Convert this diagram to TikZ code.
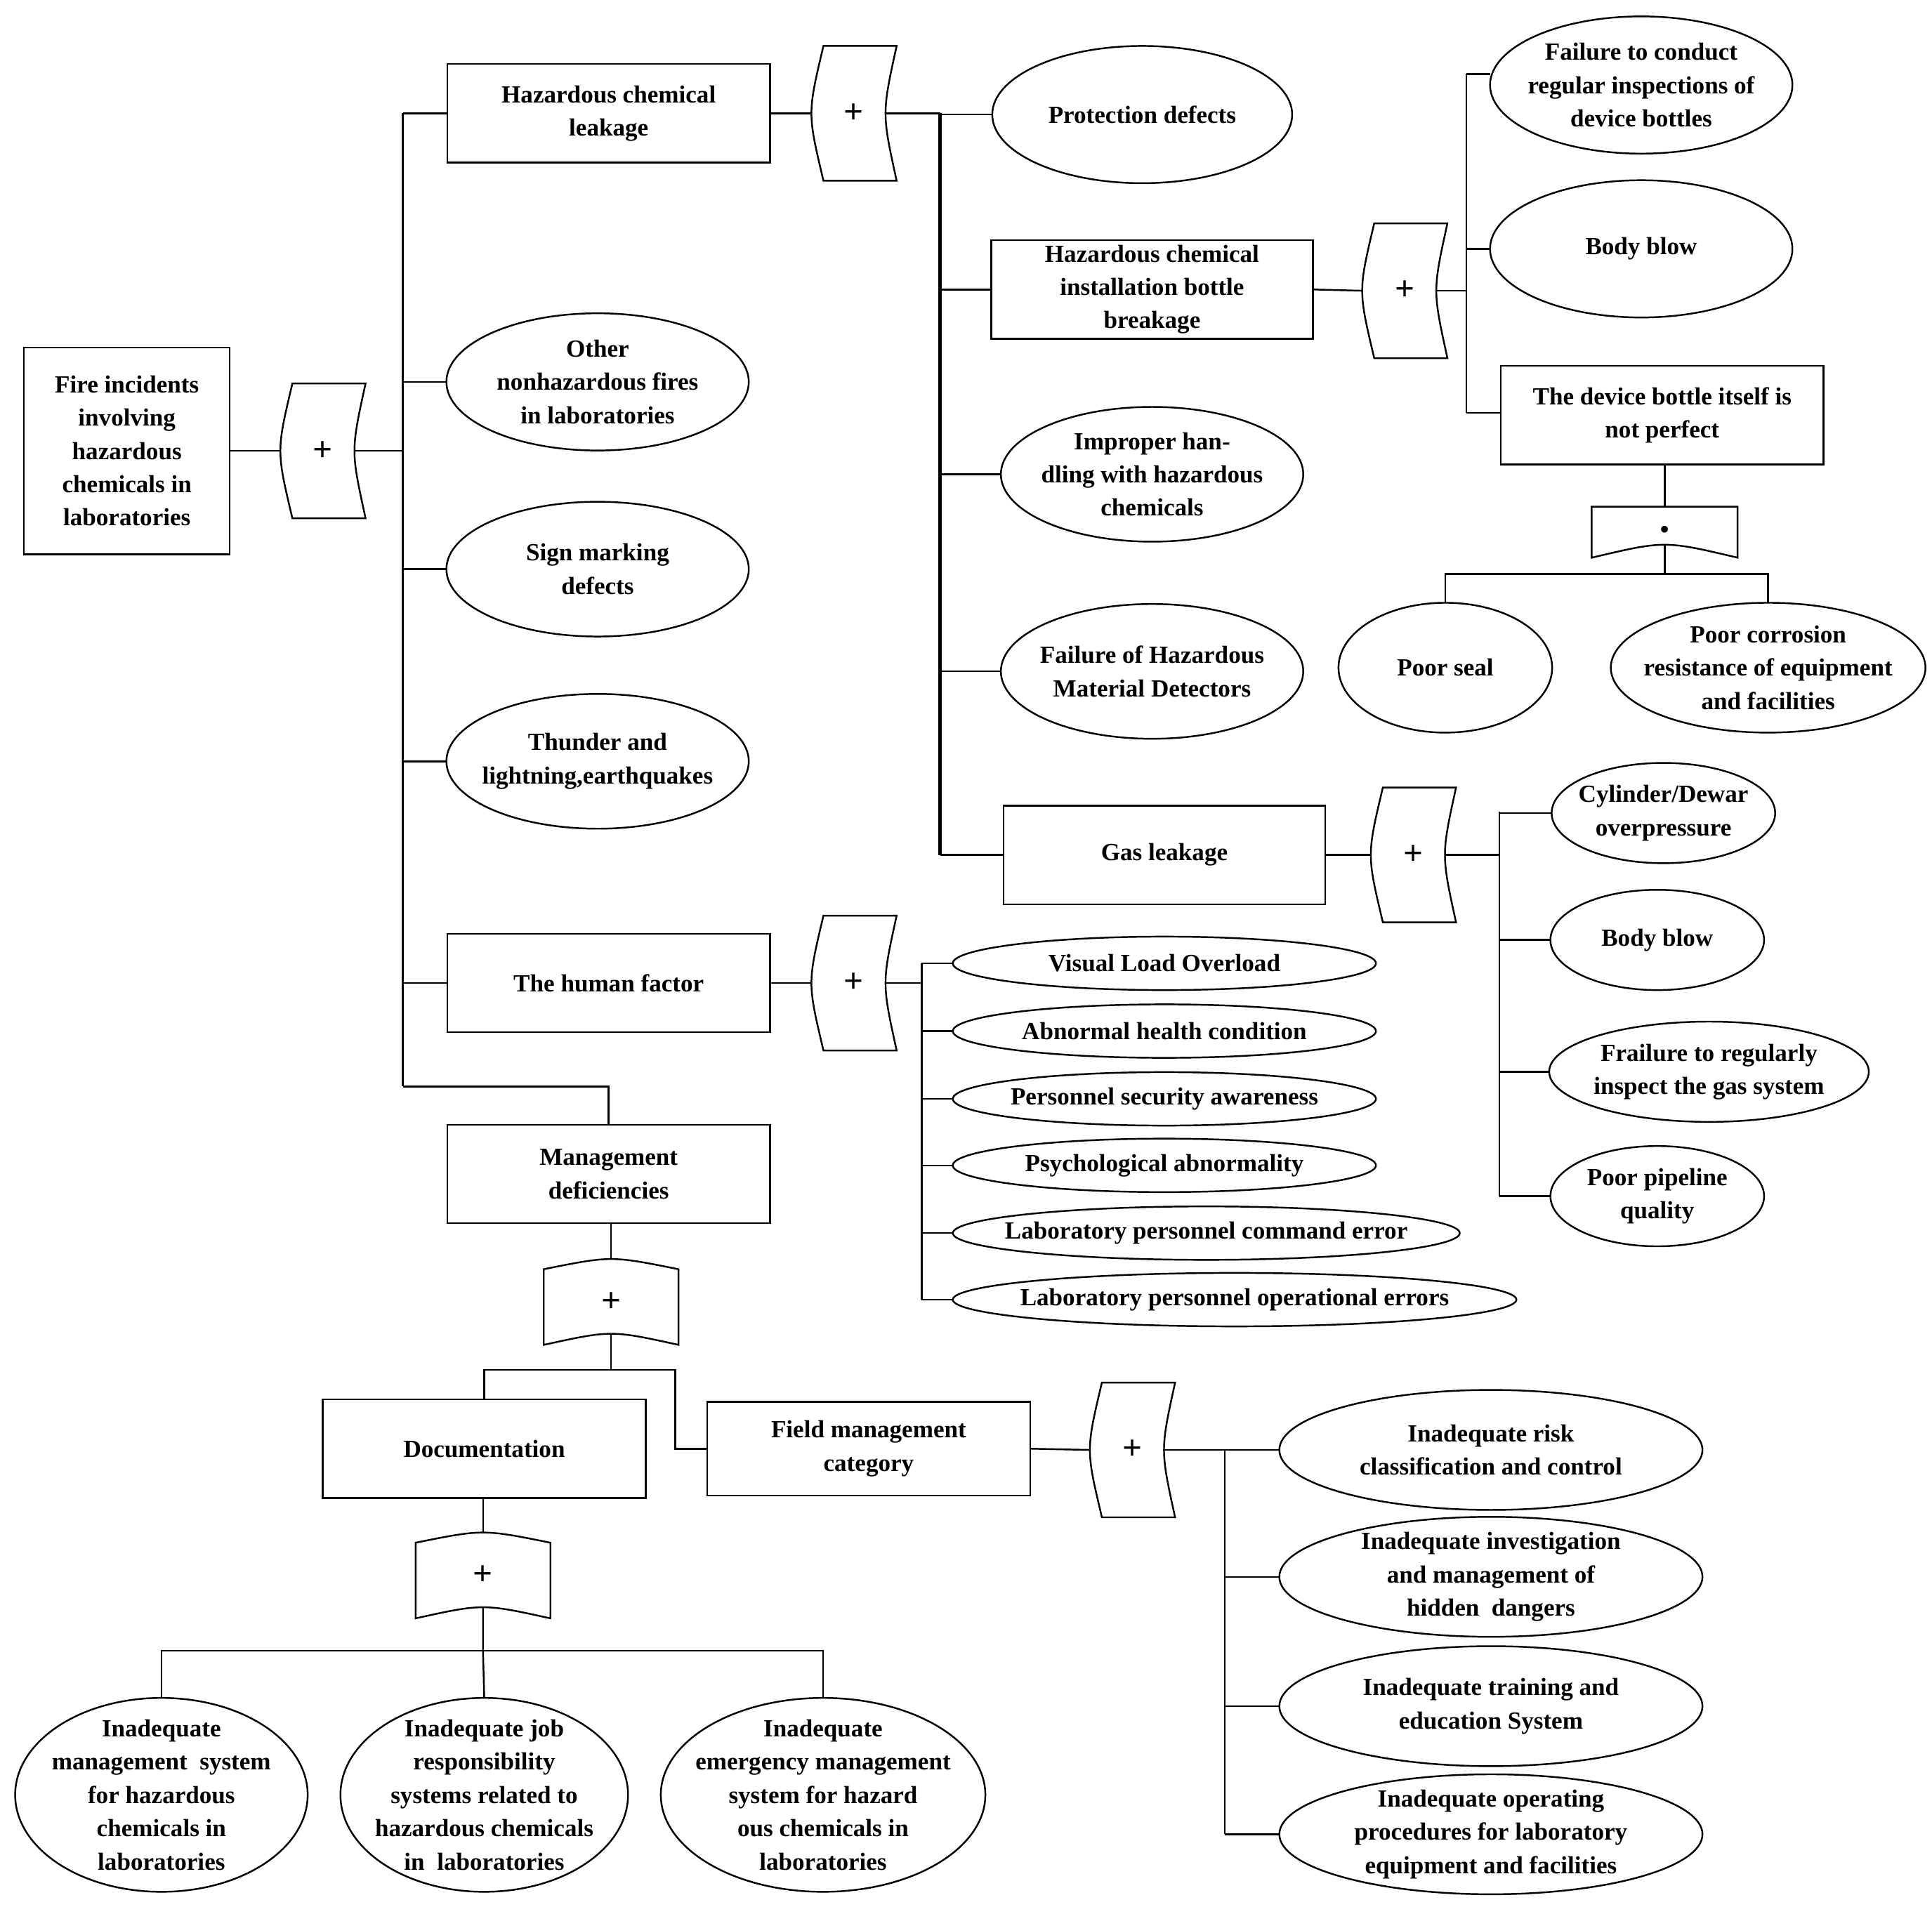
\documentclass[tikz,border=0pt]{standalone}
\usepackage{fontspec}
\setmainfont{Liberation Serif}
\usetikzlibrary{shapes.geometric,calc}
\begin{document}
\begin{tikzpicture}[x=1pt,y=-1pt,line width=1.4pt,
  every node/.style={font=\fontsize{20}{27}\selectfont\bfseries,align=center,inner sep=0pt},
  box/.style={draw,rectangle,minimum width=262pt,minimum height=80pt},
  el/.style={rectangle,minimum width=#1},
  gh/.style={minimum width=68pt,minimum height=108pt,font=\fontsize{28}{28}\selectfont\bfseries},
  gv/.style={minimum width=108pt,minimum height=68pt,font=\fontsize{28}{28}\selectfont\bfseries}]
\newcommand\hgate[1]{\draw ($(#1.north west)+(10,0)$) -- (#1.north east) .. controls ($(#1.east)+(-12,0)$) .. (#1.south east) -- ($(#1.south west)+(10,0)$) .. controls ($(#1.west)+(-3,0)$) .. cycle;}
\newcommand\vgate[1]{\draw ($(#1.north west)+(0,8)$) .. controls ($(#1.north)+(0,-3)$) .. ($(#1.north east)+(0,8)$) -- (#1.south east) .. controls ($(#1.south)+(0,-12)$) .. (#1.south west) -- cycle;}
\newcommand\gout[1]{($(#1.east)+(-9,0)$)}
\useasboundingbox (0,0) rectangle (1568,1548);
% root
\node[draw,minimum width=167pt,minimum height=168pt] (root) at (103,366) {Fire incidents\\involving\\hazardous\\chemicals in\\laboratories};
\node[gh] (g0) at (262,366) {+}; \hgate{g0}
\coordinate (s0) at (327,92); \coordinate (s1) at (327,882);
\draw (root.east) -- (g0.west); \draw \gout{g0} -- (g0.east -| s0);
\draw (s0) -- (s1);
\node[box] (leak) at (494,92) {Hazardous chemical\\leakage};
\node[el=244pt,minimum height=110pt] (other) at (485,310) {Other\\nonhazardous fires\\in laboratories};
\node[el=244pt,minimum height=108pt] (sign) at (485,462) {Sign marking\\defects};
\node[el=244pt,minimum height=108pt] (thun) at (485,618) {Thunder and\\lightning,earthquakes};
\node[box] (human) at (494,798) {The human factor};
\node[box] (mgmt) at (494,953) {Management\\deficiencies};
\foreach \n in {leak,other,sign,thun,human} \draw (s0 |- \n.west) -- (\n.west);
\draw (s1) -| (mgmt.north);
% leakage branch
\node[gh] (g1) at (693,92) {+}; \hgate{g1}
\coordinate (b1) at (763,92); \coordinate (b1e) at (763,694);
\draw (leak.east) -- (g1.west); \draw \gout{g1} -- (b1);
\draw[line width=3pt] (b1) -- (b1e);
\node[el=242pt,minimum height=110pt] (prot) at (927,93) {Protection defects};
\node[box,minimum width=261pt] (bottle) at (935,235) {Hazardous chemical\\installation bottle\\breakage};
\node[el=244pt,minimum height=108pt] (impr) at (935,385) {Improper han-\\dling with hazardous\\chemicals};
\node[el=244pt,minimum height=108pt] (det) at (935,545) {Failure of Hazardous\\Material Detectors};
\node[box,minimum width=261pt] (gas) at (945,694) {Gas leakage};
\foreach \n in {prot,bottle,impr,det,gas} \draw (b1 |- \n.west) -- (\n.west);
% bottle branch
\node[gh] (g2) at (1140,236) {+}; \hgate{g2}
\coordinate (b2) at (1190,60); \coordinate (b2e) at (1190,335);
\draw (bottle.east) -- (g2.west); \draw \gout{g2} -- (g2.east -| b2); \draw (b2) -- (b2e);
\node[el=244pt,minimum height=110pt] (insp) at (1332,69) {Failure to conduct\\regular inspections of\\device bottles};
\node[el=244pt,minimum height=110pt] (blow1) at (1332,202) {Body blow};
\node[box] (itself) at (1349,337) {The device bottle itself is\\not perfect};
\draw (b2) -- (b2 -| insp.west); \draw (b2 |- blow1.west) -- (blow1.west); \draw (b2e) -- (b2e -| itself.west);
\node[minimum width=117pt,minimum height=44pt] (and) at (1351,430) {\Large$\bullet$};
\draw ($(and.north west)+(0,4)$) -- ($(and.north east)+(0,4)$) -- (and.south east) .. controls ($(and.south)+(0,-14)$) .. (and.south west) -- cycle;
\draw (itself.south -| and.north) -- ($(and.north)+(0,4)$);
\node[el=172pt,minimum height=104pt] (seal) at (1173,542) {Poor seal};
\node[el=254pt,minimum height=104pt] (corr) at (1435,542) {Poor corrosion\\resistance of equipment\\and facilities};
\coordinate (a1) at (1351,466);
\draw ($(and.south)+(0,-10)$) -- (a1); \draw (seal.north) |- (a1) -| (corr.north);
% gas branch
\node[gh] (g3) at (1147,694) {+}; \hgate{g3}
\coordinate (b3) at (1217,659); \coordinate (b3e) at (1217,971);
\draw (gas.east) -- (g3.west); \draw \gout{g3} -- (g3.east -| b3); \draw (b3) -- (b3e);
\node[el=180pt,minimum height=80pt] (cyl) at (1350,660) {Cylinder/Dewar\\overpressure};
\node[el=172pt,minimum height=80pt] (blow2) at (1345,763) {Body blow};
\node[el=258pt,minimum height=80pt] (frail) at (1387,870) {Frailure to regularly\\inspect the gas system};
\node[el=172pt,minimum height=80pt] (pipe) at (1345,971) {Poor pipeline\\quality};
\foreach \n in {cyl,blow2,frail,pipe} \draw (b3 |- \n.west) -- (\n.west);
% human branch
\node[gh] (g4) at (693,798) {+}; \hgate{g4}
\coordinate (b4) at (748,782); \coordinate (b4e) at (748,1055);
\draw (human.east) -- (g4.west); \draw \gout{g4} -- (g4.east -| b4); \draw (b4) -- (b4e);
\node[el=342pt,minimum height=42pt] (h1) at (945,782) {Visual Load Overload};
\node[el=342pt,minimum height=42pt] (h2) at (945,837) {Abnormal health condition};
\node[el=342pt,minimum height=42pt] (h3) at (945,892) {Personnel security awareness};
\node[el=342pt,minimum height=42pt] (h4) at (945,946) {Psychological abnormality};
\node[el=410pt,minimum height=42pt] (h5) at (979,1001) {Laboratory personnel command error};
\node[el=456pt,minimum height=42pt] (h6) at (1002,1055) {Laboratory personnel operational errors};
\foreach \n in {h1,h2,h3,h4,h5,h6} \draw (b4 |- \n.west) -- (\n.west);
% management
\node[gv] (g5) at (496,1057) {+}; \vgate{g5}
\draw (mgmt.south -| g5.north) -- ($(g5.north)+(0,0)$);
\node[box] (doc) at (393,1176) {Documentation};
\node[box,minimum height=76pt] (field) at (705,1176) {Field management\\category};
\coordinate (m1) at (496,1112); \coordinate (m2) at (548,1112);
\draw ($(g5.south)+(0,-9)$) -- (m1); \draw (doc.north) |- (m1) -- (m2) |- (field.west);
\node[gv] (g6) at (392,1279) {+}; \vgate{g6}
\draw (doc.south -| g6.north) -- (g6.north);
\node[el=236pt,minimum height=156pt] (d1) at (131,1457) {Inadequate\\management\ \ system\\for hazardous\\chemicals in\\laboratories};
\node[el=232pt,minimum height=156pt] (d2) at (393,1457) {Inadequate job\\responsibility\\systems related to\\hazardous chemicals\\in\ \ laboratories};
\node[el=262pt,minimum height=156pt] (d3) at (668,1457) {Inadequate\\emergency management\\system for hazard\\ous chemicals in\\laboratories};
\coordinate (m3) at (392,1340);
\draw ($(g6.south)+(0,-9)$) -- (m3) -- (d2.north); \draw (d1.north) |- (m3) -| (d3.north);
\node[gh] (g7) at (919,1177) {+}; \hgate{g7}
\coordinate (b7) at (994,1177); \coordinate (b7e) at (994,1489);
\draw (field.east) -- (g7.west); \draw \gout{g7} -- (b7) -- (b7e);
\node[el=342pt,minimum height=96pt] (f1) at (1210,1177) {Inadequate risk\\classification and control};
\node[el=342pt,minimum height=96pt] (f2) at (1210,1280) {Inadequate investigation\\and management of\\hidden\ \ dangers};
\node[el=342pt,minimum height=96pt] (f3) at (1210,1385) {Inadequate training and\\education System};
\node[el=342pt,minimum height=96pt] (f4) at (1210,1489) {Inadequate operating\\procedures for laboratory\\equipment and facilities};
\foreach \n in {f1,f2,f3,f4} \draw (b7 |- \n.west) -- (\n.west);
% ellipse outlines
\foreach \e in {other,sign,thun,prot,impr,det,insp,blow1,seal,corr,cyl,blow2,frail,pipe,h1,h2,h3,h4,h5,h6,d1,d2,d3,f1,f2,f3,f4}
  \draw let \p1=($(\e.east)-(\e.west)$), \p2=($(\e.north)-(\e.south)$) in
    (\e.center) ellipse [x radius={abs(\x1)/2}, y radius={abs(\y2)/2}];
\end{tikzpicture}
\end{document}
